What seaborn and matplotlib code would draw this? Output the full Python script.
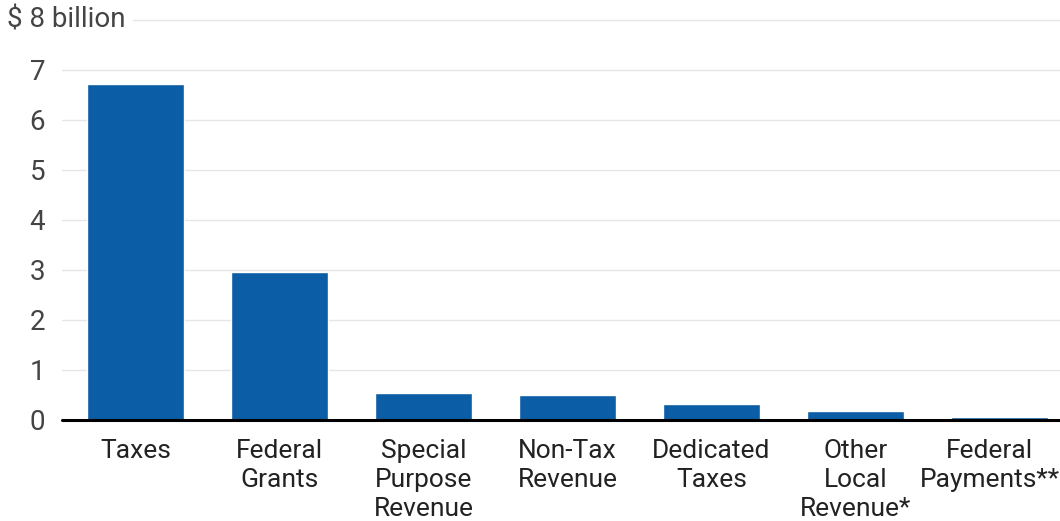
import matplotlib
matplotlib.use("Agg")
import matplotlib.pyplot as plt
import matplotlib.transforms as mtransforms
import seaborn as sns
import pandas as pd

# revenue sources, $ billion
categories = ["Taxes", "Federal\nGrants", "Special\nPurpose\nRevenue", "Non-Tax\nRevenue",
              "Dedicated\nTaxes", "Other\nLocal\nRevenue*", "Federal\nPayments**"]
values = [6.72, 2.96, 0.54, 0.50, 0.32, 0.18, 0.06]
y_ticks = [0, 1, 2, 3, 4, 5, 6, 7]

sns.set_theme(style="white")
plt.rcParams['font.family'] = ['Roboto', 'DejaVu Sans']

df = pd.DataFrame({"source": categories, "value": values})

fig = plt.figure(figsize=(10.6, 5.21), dpi=100)
ax = fig.add_axes([62 / 1060, 101 / 521, 1 - 62 / 1060, 400 / 521])

sns.barplot(data=df, x="source", y="value", color="#0b5ea5", saturation=1,
            width=0.674, ax=ax, zorder=3)

ax.set_ylim(0, 8)
ax.set_xlim(-0.51, 6.42)
ax.set_yticks(y_ticks)
ax.set_yticklabels([str(t) for t in y_ticks], fontsize=20, color="#444444")
for t in y_ticks[1:]:
    ax.axhline(t, color="#e6e6e6", lw=1, zorder=1)
ax.axhline(8, color="#e6e6e6", lw=1, zorder=1, clip_on=False)
ax.axhline(0, color="black", lw=2.2, zorder=4, clip_on=False)

# top label sits on the 8 gridline
ax.text(-0.0555, 1.0, "$ 8 billion", transform=ax.transAxes, fontsize=20, color="#444444",
        ha="left", va="center",
        bbox=dict(facecolor="white", edgecolor="none", pad=6))

ax.tick_params(axis="y", length=0, pad=12)
ax.tick_params(axis="x", length=0, pad=14, labelcolor="#222222")
for lbl in ax.get_xticklabels():
    lbl.set_fontsize(19)
    lbl.set_linespacing(1.25)
# nudge the last label left so it stays inside the figure
last = ax.get_xticklabels()[-1]
last.set_transform(last.get_transform() + mtransforms.ScaledTranslation(-0.1, 0, fig.dpi_scale_trans))
ax.set_xlabel("")
ax.set_ylabel("")
for s in ax.spines.values():
    s.set_visible(False)

fig.savefig("out.png", dpi=100)
